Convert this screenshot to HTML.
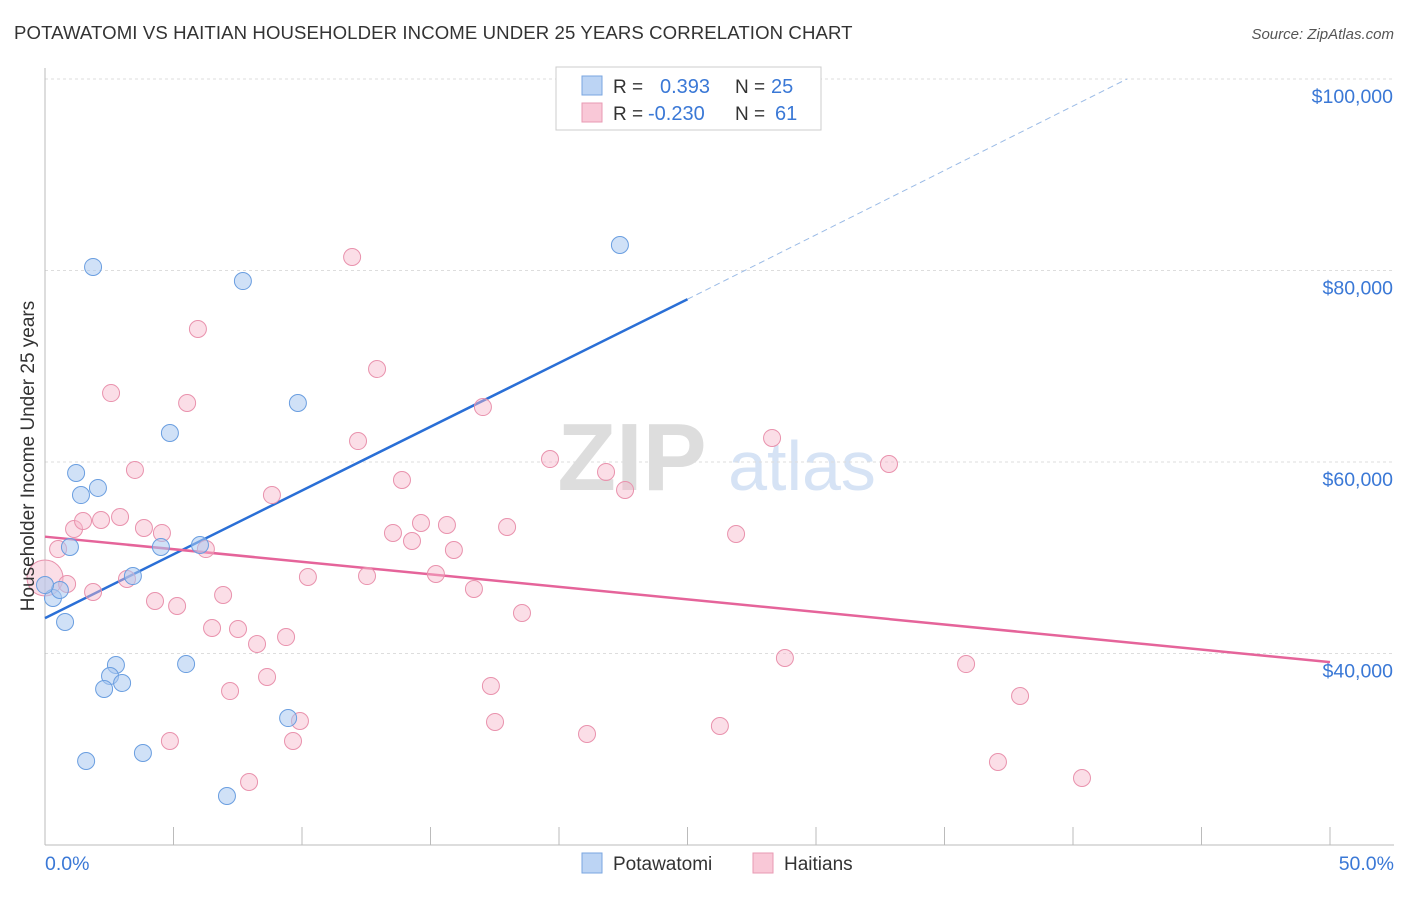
<!DOCTYPE html>
<html><head><meta charset="utf-8"><style>
body{margin:0;background:#fff;font-family:"Liberation Sans",sans-serif;}
svg text{font-family:"Liberation Sans",sans-serif;}
</style></head><body>
<svg id="chart" width="1406" height="892" viewBox="0 0 1406 892">
<text x="14" y="39" font-size="18.6" fill="#333" letter-spacing="0.1">POTAWATOMI VS HAITIAN HOUSEHOLDER INCOME UNDER 25 YEARS CORRELATION CHART</text>
<text x="1394" y="39" font-size="15" fill="#555" text-anchor="end" font-style="italic">Source: ZipAtlas.com</text>
<g>
<text x="632" y="490" font-size="96" fill="#ddd" text-anchor="middle" font-family="Liberation Serif" font-weight="bold">ZIP</text>
<text x="802" y="490" font-size="70" fill="#d6e3f5" text-anchor="middle">atlas</text>
</g>
<g id="grid"></g>
<g id="axes"></g>
<g id="trend"></g>
<g id="points"></g>
<text transform="translate(34,456) rotate(-90)" font-size="19" fill="#333" text-anchor="middle">Householder Income Under 25 years</text>
<g>
<rect x="556" y="67" width="265" height="63" fill="#fff" stroke="#ccc"/>
<rect x="582" y="76" width="20" height="19" fill="#bcd4f4" stroke="#7aa6e0"/>
<rect x="582" y="103" width="20" height="19" fill="#f9c8d7" stroke="#e89ab3"/>
<text x="613" y="93" font-size="19" fill="#333">R =</text>
<text x="660" y="93" font-size="20" fill="#3a78d6">0.393</text>
<text x="735" y="93" font-size="19" fill="#333">N =</text>
<text x="771" y="93" font-size="20" fill="#3a78d6">25</text>
<text x="613" y="120" font-size="19" fill="#333">R =</text>
<text x="648" y="120" font-size="20" fill="#3a78d6">-0.230</text>
<text x="735" y="120" font-size="19" fill="#333">N =</text>
<text x="775" y="120" font-size="20" fill="#3a78d6">61</text>
</g>
<g>
<rect x="582" y="853" width="20" height="20" fill="#bcd4f4" stroke="#7aa6e0"/>
<text x="613" y="870" font-size="19" fill="#333">Potawatomi</text>
<rect x="753" y="853" width="20" height="20" fill="#f9c8d7" stroke="#e89ab3"/>
<text x="784" y="870" font-size="19" fill="#333">Haitians</text>
</g>
</svg>
<script>
const xTicks=[0,5,10,15,20,25,30,35,40,45,50];
const yTicks=[40000,60000,80000,100000];
const yTickLabels=["$40,000","$60,000","$80,000","$100,000"];
const blueX=[1.87,7.70,22.37,4.86,9.84,1.21,1.40,2.06,0.97,4.51,6.03,3.42,0.31,0.58,0.0,0.78,2.76,5.49,2.53,2.30,3.00,9.46,3.81,1.60,7.08];
const blueY=[80370,78900,82660,63030,66160,58850,56550,57290,51120,51120,51330,48090,45800,46630,47150,43290,38800,38900,37650,36290,36920,33260,29610,28770,25120];
const pinkX=[11.95,5.95,12.92,2.57,5.53,17.04,12.18,28.29,19.65,21.83,32.84,3.50,13.89,22.57,8.83,1.13,1.48,2.18,2.92,3.85,4.55,0.51,6.26,13.54,14.28,14.63,15.64,17.98,15.91,26.89,0,0.86,1.87,3.19,10.23,12.53,15.21,16.69,4.28,5.14,6.93,18.56,6.5,7.51,8.25,9.38,28.79,35.84,37.94,8.64,7.2,17.35,9.92,17.51,26.26,21.09,4.86,9.65,7.94,37.08,40.35];
const pinkY=[81410,73890,69710,67200,66160,65740,62190,62510,60310,58960,59790,59170,58120,57080,56550,53000,53840,53940,54260,53110,52590,50910,50910,52590,51750,53630,53420,53210,50810,52480,47890,47260,46420,47780,47990,48090,48300,46740,45480,44960,46110,44230,42660,42560,40990,41720,39530,38900,35560,37550,36080,36610,32950,32850,32430,31590,30860,30860,26580,28670,27000];
const blueTrend=[[0,43700],[25,77000],[42.1,100000]];
const pinkTrend=[[0,52200],[50,39100]];
const NS="http://www.w3.org/2000/svg";
const X=v=>45+v/50*1285;
const Y=v=>845-(v-20000)/80000*766;
function mk(tag,attrs,parent){const e=document.createElementNS(NS,tag);for(const k in attrs)e.setAttribute(k,attrs[k]);document.getElementById(parent).appendChild(e);return e;}
yTicks.forEach((t,i)=>{
 const l=mk('line',{x1:45,x2:1394,y1:Y(t),y2:Y(t),stroke:'#ddd','stroke-dasharray':'3,3'},'grid');
 
 
 const tx=mk('text',{x:1393,y:Y(t)+24,'font-size':19.5,fill:'#3a78d6','text-anchor':'end'},'grid');
 tx.textContent=yTickLabels[i];
 
 
});
const ax=mk('line',{x1:45,x2:1394,y1:845,y2:845,stroke:'#bbb'},'axes');


const ay=mk('line',{x1:45,x2:45,y1:68,y2:845,stroke:'#bbb'},'axes');


xTicks.forEach(t=>{
 const l=mk('line',{x1:X(t),x2:X(t),y1:827,y2:845,stroke:'#bbb'},'axes');
 
 
});
const xl0=mk('text',{x:45,y:870,'font-size':19.5,fill:'#3a78d6'},'axes');xl0.textContent=xTicks[0].toFixed(1)+'%';


const xl1=mk('text',{x:1394,y:870,'font-size':19.5,fill:'#3a78d6','text-anchor':'end'},'axes');xl1.textContent=xTicks[xTicks.length-1].toFixed(1)+'%';


for(let i=0;i<pinkX.length;i++){
 const big=(pinkX[i]===0);
 const c=mk('circle',{cx:X(pinkX[i]),cy:Y(pinkY[i]),r:big?18:8.5,fill:'#f7b6ca','fill-opacity':0.45,stroke:'#e992ad','stroke-width':1},'points');
 
 
}
for(let i=0;i<blueX.length;i++){
 const c=mk('circle',{cx:X(blueX[i]),cy:Y(blueY[i]),r:8.5,fill:'#a9c8f0','fill-opacity':0.55,stroke:'#6a9ee0','stroke-width':1},'points');
 
 
}
const b1=mk('line',{x1:X(blueTrend[0][0]),y1:Y(blueTrend[0][1]),x2:X(blueTrend[1][0]),y2:Y(blueTrend[1][1]),stroke:'#2a6fd6','stroke-width':2.5},'trend');


const b2=mk('line',{x1:X(blueTrend[1][0]),y1:Y(blueTrend[1][1]),x2:X(blueTrend[2][0]),y2:Y(blueTrend[2][1]),stroke:'#9bbbe6','stroke-width':1,'stroke-dasharray':'6,4'},'trend');


const p1=mk('line',{x1:X(pinkTrend[0][0]),y1:Y(pinkTrend[0][1]),x2:X(pinkTrend[1][0]),y2:Y(pinkTrend[1][1]),stroke:'#e5649a','stroke-width':2.5},'trend');


</script>
</body></html>
